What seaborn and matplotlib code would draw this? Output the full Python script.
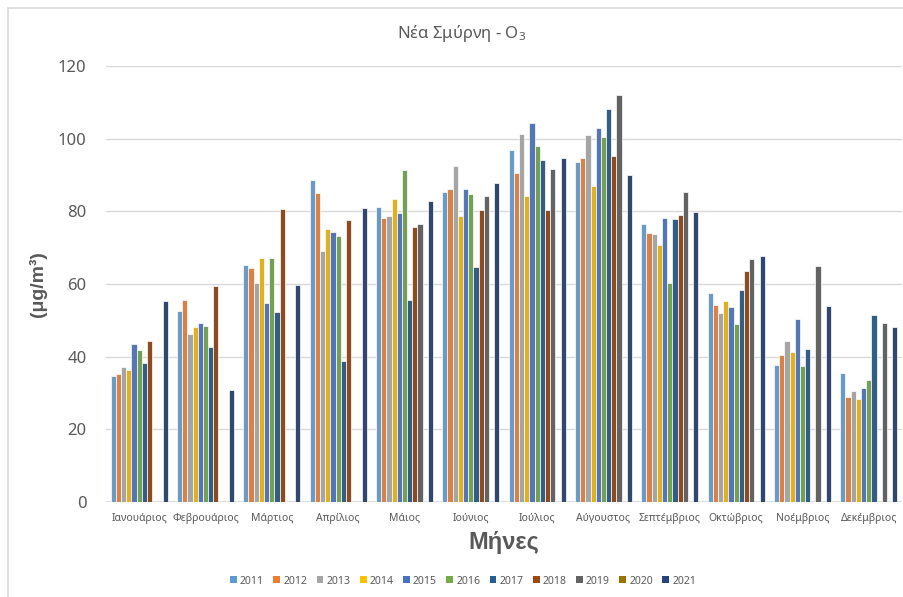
import numpy as np
import pandas as pd
import matplotlib
matplotlib.use("Agg")
import matplotlib.pyplot as plt
from matplotlib.lines import Line2D
from matplotlib.patches import Patch
import seaborn as sns

months = ["Ιανουάριος", "Φεβρουάριος", "Μάρτιος", "Απρίλιος", "Μάιος", "Ιούνιος",
          "Ιούλιος", "Αύγουστος", "Σεπτέμβριος", "Οκτώβριος", "Νοέμβριος", "Δεκέμβριος"]
years = ["2011", "2012", "2013", "2014", "2015", "2016",
         "2017", "2018", "2019", "2020", "2021"]
nan = np.nan

# Monthly mean O3 concentration (μg/m³), one list per year
o3_2011 = [34.8, 52.6, 65.3, 88.5, 81.3, 85.2, 96.9, 93.7, 76.5, 57.6, 37.8, 35.4]
o3_2012 = [35.3, 55.6, 64.5, 85.0, 78.3, 86.2, 90.5, 94.8, 74.1, 54.3, 40.5, 29.0]
o3_2013 = [37.1, 46.2, 60.4, 69.1, 78.7, 92.6, 101.3, 101.0, 73.7, 52.0, 44.2, 30.6]
o3_2014 = [36.2, 48.3, 67.1, 75.1, 83.4, 78.7, 84.1, 87.1, 70.7, 55.3, 41.2, 28.3]
o3_2015 = [43.4, 49.4, 54.8, 74.4, 79.6, 86.2, 104.4, 102.9, 78.2, 53.8, 50.5, 31.5]
o3_2016 = [41.7, 48.5, 67.1, 73.1, 91.5, 84.8, 97.9, 100.5, 60.3, 49.0, 37.3, 33.7]
o3_2017 = [38.3, 42.7, 52.2, 38.9, 55.7, 64.6, 94.2, 108.3, 77.9, 58.4, 42.1, 51.4]
o3_2018 = [44.2, 59.5, 80.6, 77.6, 75.6, 80.5, 80.4, 95.2, 79.1, 63.6, nan, nan]
o3_2019 = [nan, nan, nan, nan, 76.6, 84.3, 91.6, 111.9, 85.2, 67.0, 65.0, 49.4]
o3_2020 = [nan] * 12
o3_2021 = [55.2, 30.9, 59.6, 80.8, 82.8, 87.9, 94.8, 90.0, 79.7, 67.7, 54.0, 48.3]

series = [o3_2011, o3_2012, o3_2013, o3_2014, o3_2015, o3_2016,
          o3_2017, o3_2018, o3_2019, o3_2020, o3_2021]

colors = ["#5B9BD5", "#ED7D31", "#A5A5A5", "#FFC000", "#4472C4", "#70AD47",
          "#255E91", "#9E480E", "#636363", "#997300", "#264478"]

df = pd.DataFrame(
    [(m, y, v) for y, vals in zip(years, series) for m, v in zip(months, vals)],
    columns=["month", "year", "value"],
)

sns.set_theme(style="white")
plt.rcParams["font.family"] = ["Noto Sans", "DejaVu Sans"]
plt.rcParams["mathtext.fontset"] = "custom"
plt.rcParams["mathtext.rm"] = "Noto Sans"
plt.rcParams["mathtext.it"] = "Noto Sans"

text_color = "#595959"
grid_color = "#D9D9D9"
bold_family = ["Liberation Sans", "DejaVu Sans"]

fig = plt.figure(figsize=(9.04, 5.97), dpi=100)
W, H = 904, 597
ax = fig.add_axes([106 / W, 1 - 502 / H, (902 - 106) / W, (502 - 66) / H])

sns.barplot(data=df, x="month", y="value", hue="year",
            order=months, hue_order=years, palette=colors,
            width=0.86, errorbar=None, edgecolor="white", linewidth=0.5,
            legend=False, ax=ax)

ax.set_ylim(0, 120)
ax.set_yticks(np.arange(0, 121, 20))
ax.set_xlim(-0.5, 11.5)
ax.yaxis.grid(True, color=grid_color, linewidth=1.0)
ax.set_axisbelow(True)
for s in ax.spines.values():
    s.set_visible(False)
ax.axhline(0, color=grid_color, linewidth=1.2, zorder=0.5)

ax.tick_params(axis="y", labelsize=12, labelcolor=text_color, length=0, pad=14)
ax.tick_params(axis="x", labelsize=7.5, labelcolor=text_color, length=0, pad=8)

ax.set_xlabel("Μήνες", fontsize=17, fontweight="bold", family=bold_family,
              color=text_color, labelpad=5)
ax.set_ylabel("(μg/m³)", fontsize=14, fontweight="bold", family=bold_family,
              color=text_color, labelpad=8)

fig.text(462 / W, 1 - 33 / H, "Νέα Σμύρνη - O$_3$", ha="center", va="center",
         fontsize=12, color=text_color)

handles = [Patch(facecolor=c, edgecolor="none") for c in colors]
fig.legend(handles, years, loc="center", bbox_to_anchor=(463 / W, 1 - 581 / H),
           ncol=11, frameon=False, fontsize=7.5, labelcolor=text_color,
           handlelength=0.65, handleheight=0.65, handletextpad=0.3, columnspacing=0.9)

# chart-area border
fig.add_artist(Line2D([8 / W, 8 / W], [0, 1 - 8 / H], color=grid_color, linewidth=1.2))
fig.add_artist(Line2D([8 / W, 1], [1 - 8 / H, 1 - 8 / H], color=grid_color, linewidth=1.2))

fig.savefig("out.png", dpi=100, facecolor="white")
